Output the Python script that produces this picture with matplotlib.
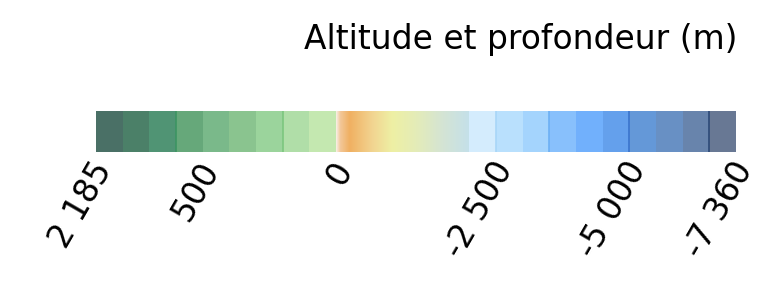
import numpy as np
import matplotlib
matplotlib.use("Agg")
import matplotlib.pyplot as plt
from matplotlib.colors import LinearSegmentedColormap
from matplotlib.transforms import ScaledTranslation

# class limits (m), land then sea
land_bounds = [2185, 1500, 1000, 750, 500, 400, 300, 200, 100, 0]
land_colors = ["#4a7066", "#4b8068", "#509474", "#66a87a", "#7ab98a",
               "#8ac48f", "#9bd49c", "#b0dea8", "#c4e8b0"]

shelf_bounds = [0, -2000]  # continuous part
shelf_stops = [0.0, 0.03, 0.1, 0.27, 0.42, 0.6, 0.8, 1.0]
shelf_colors = ["#f8efe6", "#f3c89a", "#f0b062", "#f2d490", "#eef0a4",
                "#e4ecb8", "#d4e4d4", "#c4e0ea"]
shelf_slots = 5

sea_bounds = [-2000, -2500, -3000, -3500, -4000, -4500, -5000,
              -5500, -6000, -6500, -7360]
sea_colors = ["#d4ecfd", "#b9e0fd", "#a4d4fd", "#88c0fc", "#71b0fc",
              "#64a0ec", "#6498d8", "#6890c4", "#6884ac", "#687894"]

tick_values = [2185, 500, 0, -2500, -5000, -7360]
tick_labels = ["2 185", "500", "0", "-2 500", "-5 000", "-7 360"]

# darker separators between some classes
edge_values = [750, 200, -2500, -3500, -5000, -6500]
edge_colors = ["#3c9462", "#7cc67e", "#a8d6f8", "#6cb0f4", "#3a74cc", "#2c4a78"]

n_land = len(land_colors)
n_sea = len(sea_colors)
all_bounds = land_bounds + [None] * (shelf_slots - 1) + sea_bounds


def pos_of(v):
    return all_bounds.index(v)


fig = plt.figure(figsize=(7.64, 2.91), dpi=100)
ax = fig.add_axes([96 / 764, 1 - 152 / 291, 640 / 764, 41 / 291])

ax.bar(np.arange(n_land), 1, width=1, align="edge", color=land_colors, linewidth=0)
sea_x = n_land + shelf_slots + np.arange(n_sea)
ax.bar(sea_x, 1, width=1, align="edge", color=sea_colors, linewidth=0)

cmap = LinearSegmentedColormap.from_list("shelf", list(zip(shelf_stops, shelf_colors)))
grad = np.linspace(0, 1, 256).reshape(1, -1)
ax.imshow(grad, cmap=cmap, aspect="auto",
          extent=[n_land, n_land + shelf_slots, 0, 1], interpolation="bilinear")

for v, c in zip(edge_values, edge_colors):
    ax.axvline(pos_of(v), color=c, lw=1.2)

total = n_land + shelf_slots + n_sea
ax.set_xlim(0, total)
ax.set_ylim(0, 1)
ax.set_yticks([])
for s in ax.spines.values():
    s.set_visible(False)

ax.set_xticks([pos_of(v) for v in tick_values])
ax.set_xticklabels(tick_labels, rotation=60, ha="right", va="center",
                   rotation_mode="anchor", fontsize=23.5)
ax.tick_params(axis="x", length=0, pad=9)
shift = ScaledTranslation(9 / 100, 0, fig.dpi_scale_trans)
for lab in ax.get_xticklabels():
    lab.set_transform(lab.get_transform() + shift)

fig.text(737 / 764, 1 - 40 / 291, "Altitude et profondeur (m)",
         ha="right", va="center", fontsize=23.7)

fig.savefig("out.png", dpi=100)
